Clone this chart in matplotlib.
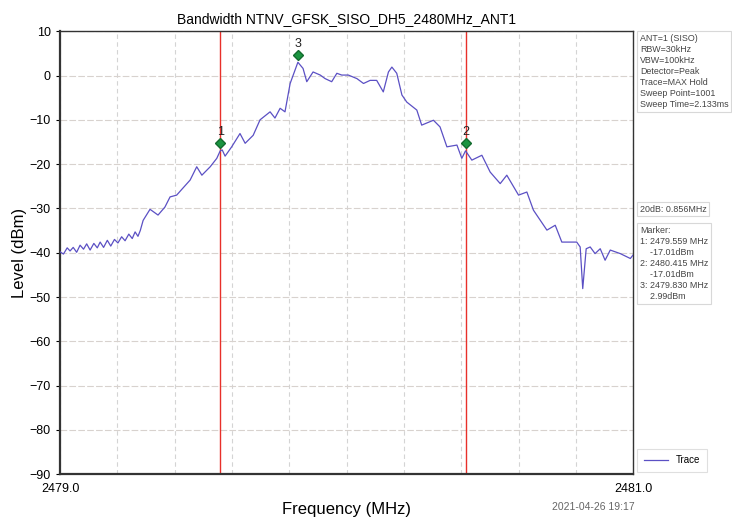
import matplotlib
matplotlib.use('Agg')
import matplotlib.pyplot as plt
import matplotlib.transforms as mtransforms

# trace (MHz, dBm)
freq = [2479.000, 2479.012, 2479.025, 2479.035, 2479.046, 2479.058, 2479.070, 2479.082,
        2479.093, 2479.105, 2479.118, 2479.130, 2479.140, 2479.152, 2479.165, 2479.177,
        2479.190, 2479.202, 2479.215, 2479.227, 2479.240, 2479.252, 2479.262, 2479.272,
        2479.280, 2479.290, 2479.314, 2479.342, 2479.366, 2479.384, 2479.407, 2479.429,
        2479.454, 2479.477, 2479.495, 2479.524, 2479.547, 2479.559, 2479.566, 2479.576,
        2479.599, 2479.628, 2479.646, 2479.674, 2479.698, 2479.733, 2479.750, 2479.768,
        2479.785, 2479.803, 2479.830, 2479.848, 2479.861, 2479.883, 2479.908, 2479.925,
        2479.948, 2479.966, 2479.983, 2480.006, 2480.036, 2480.059, 2480.082, 2480.105,
        2480.128, 2480.146, 2480.158, 2480.175, 2480.193, 2480.210, 2480.245, 2480.262,
        2480.303, 2480.326, 2480.350, 2480.385, 2480.402, 2480.415, 2480.437, 2480.472,
        2480.501, 2480.536, 2480.559, 2480.600, 2480.629, 2480.652, 2480.699, 2480.728,
        2480.751, 2480.803, 2480.815, 2480.824, 2480.836, 2480.850, 2480.867, 2480.885,
        2480.902, 2480.920, 2480.955, 2480.990, 2481.000]
level = [-39.8, -40.3, -38.9, -39.6, -38.8, -39.9, -38.3, -39.2,
         -38.0, -39.4, -37.9, -38.9, -37.6, -38.8, -37.2, -38.5,
         -37.0, -37.8, -36.4, -37.3, -35.8, -36.8, -35.3, -36.3,
         -35.0, -32.7, -30.2, -31.5, -29.7, -27.4, -27.0, -25.4,
         -23.6, -20.6, -22.5, -20.6, -18.7, -17.0, -16.8, -18.2,
         -16.1, -13.1, -15.3, -13.5, -10.0, -8.2, -9.6, -7.4,
         -8.2, -1.8, 2.99, 1.6, -1.4, 0.8, 0.1, -0.7,
         -1.4, 0.5, 0.1, 0.1, -0.7, -1.8, -1.1, -1.1,
         -3.7, 0.8, 1.9, 0.5, -4.4, -6.0, -7.8, -11.2,
         -10.1, -11.6, -16.1, -15.7, -18.7, -17.0, -19.1, -18.0,
         -21.8, -24.4, -22.5, -27.0, -26.3, -30.4, -34.9, -33.8,
         -37.6, -37.6, -38.7, -48.1, -39.1, -38.7, -40.2, -39.1,
         -41.7, -39.4, -40.2, -41.3, -40.5]

marker_ids = ['1', '2', '3']
marker_freq = [2479.559, 2480.415, 2479.830]
marker_level = [-17.01, -17.01, 2.99]
line_freq = [2479.559, 2480.415]

info_text = ('ANT=1 (SISO)\nRBW=30kHz\nVBW=100kHz\nDetector=Peak\n'
             'Trace=MAX Hold\nSweep Point=1001\nSweep Time=2.133ms')
bw_text = '20dB: 0.856MHz'
marker_text = ('Marker:\n1: 2479.559 MHz\n    -17.01dBm\n2: 2480.415 MHz\n'
               '    -17.01dBm\n3: 2479.830 MHz\n    2.99dBm')

plt.rcParams['font.family'] = ['Liberation Sans', 'DejaVu Sans']

fig = plt.figure(figsize=(7.32, 5.2), dpi=100)
ax = fig.add_axes([0.082, 0.088, 0.783, 0.852])

ax.plot(freq, level, color='#5b50c4', lw=0.9, label='Trace', zorder=3)

for f in line_freq:
    ax.axvline(f, color='#e8302a', lw=1.0, zorder=2)

# diamonds sit a little above the marker value, as on the analyzer
shift = mtransforms.offset_copy(ax.transData, fig=fig, x=0, y=5.5, units='points')
ax.plot(marker_freq, marker_level, 'D', color='#1a9440', mec='#136b2e', ms=5.5,
        transform=shift, zorder=4)
for lab, f, v in zip(marker_ids, marker_freq, marker_level):
    ax.annotate(lab, (f, v), xytext=(0, 9), textcoords='offset points',
                ha='center', va='bottom', fontsize=9, color='#222222')

ax.set_xlim(2479.0, 2481.0)
ax.set_ylim(-90, 10)
ax.set_xticks([2479.0 + 0.2 * i for i in range(11)])
ax.set_xticklabels(['2479.0'] + [''] * 9 + ['2481.0'], fontsize=9)
ax.set_yticks(range(-90, 11, 10))
ax.tick_params(axis='y', labelsize=9, length=3)
ax.tick_params(axis='x', length=0, pad=6)

ax.yaxis.grid(True, color='#d8d2ce', ls=(0, (6, 2)), lw=0.8)
ax.xaxis.grid(True, color='#d4d4d4', ls=(0, (4, 3)), lw=0.8)
for s in ax.spines.values():
    s.set_color('#333333')
    s.set_linewidth(1.0)
ax.spines['left'].set_linewidth(1.6)
ax.spines['bottom'].set_linewidth(1.6)

ax.set_title('Bandwidth NTNV_GFSK_SISO_DH5_2480MHz_ANT1', fontsize=10, pad=6)
ax.set_ylabel('Level (dBm)', fontsize=12, labelpad=2)
ax.set_xlabel('Frequency (MHz)', fontsize=12, labelpad=5)

box = dict(boxstyle='square,pad=0.3', fc='white', ec='#d8d8d8', lw=0.8)
fig.text(0.874, 0.935, info_text, fontsize=6.4, va='top', ha='left',
         color='#444444', linespacing=1.3, bbox=box)
fig.text(0.874, 0.598, bw_text, fontsize=6.4, va='center', ha='left',
         color='#444444', bbox=box)
fig.text(0.874, 0.566, marker_text, fontsize=6.4, va='top', ha='left',
         color='#444444', linespacing=1.3, bbox=box)

leg = ax.legend(loc='lower left', bbox_to_anchor=(1.003, 0.0), fontsize=7,
                frameon=True, handlelength=2.5, borderpad=0.4)
leg.get_frame().set_edgecolor('#d8d8d8')
leg.get_frame().set_linewidth(0.8)
leg.get_frame().set_boxstyle('square')

fig.text(0.867, 0.015, '2021-04-26 19:17', fontsize=7.5, ha='right', va='bottom',
         color='#666666')

fig.savefig('out.png', dpi=100)
